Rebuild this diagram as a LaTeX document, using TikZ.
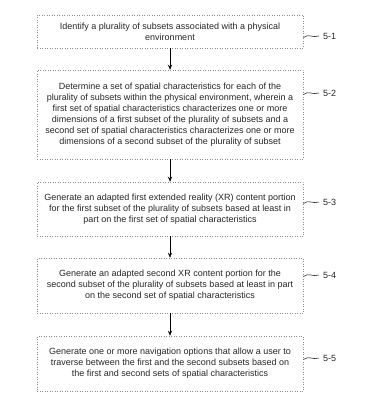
\documentclass[tikz,border=0pt]{standalone}
\usepackage{fontspec}
\setmainfont{Liberation Sans}
\usetikzlibrary{arrows.meta}
\tikzset{
  stepbox/.style={draw=black!45, dotted, line width=0.5pt, minimum width=266pt, align=center, inner sep=2pt, text=black!85, font=\fontsize{9}{11}\selectfont},
  steplabel/.style={font=\fontsize{9}{10}\selectfont, anchor=west, inner sep=0pt, text=black!85},
}
\begin{document}
\begin{tikzpicture}[>={Stealth[length=5pt,width=4pt]}, x=1pt, y=-1pt]
\useasboundingbox (0,0) rectangle (382,403);
\node[stepbox, minimum height=33pt](s1) at (170,31.5){Identify a plurality of subsets associated with a physical\\environment};
\node[stepbox, minimum height=89pt](s2) at (170,114.5){Determine a set of spatial characteristics for each of the\\plurality of subsets within the physical environment, wherein a\\first set of spatial characteristics characterizes one or more\\dimensions of a first subset of the plurality of subsets and a\\second set of spatial characteristics characterizes one or more\\dimensions of a second subset of the plurality of subset};
\node[stepbox, minimum height=54pt](s3) at (170,209){Generate an adapted first extended reality (XR) content portion\\for the first subset of the plurality of subsets based at least in\\part on the first set of spatial characteristics};
\node[stepbox, minimum height=55pt](s4) at (170,285.5){Generate an adapted second XR content portion for the\\second subset of the plurality of subsets based at least in part\\on the second set of spatial characteristics};
\node[stepbox, minimum height=55pt](s5) at (170,363.5){Generate one or more navigation options that allow a user to\\traverse between the first and the second subsets based on\\the first and second sets of spatial characteristics};
\draw[->](s1) to (s2);
\draw[->](s2) to (s3);
\draw[->](s3) to (s4);
\draw[->](s4) to (s5);
% reference labels
\node[steplabel](l1) at (323,36){5-1};
\node[steplabel](l2) at (323,93){5-2};
\node[steplabel](l3) at (323,202){5-3};
\node[steplabel](l4) at (323,275){5-4};
\node[steplabel](l5) at (323,358){5-5};
\foreach \i/\y in {1/36,2/93,3/202,4/275,5/358}{
  \coordinate (w\i) at ([xshift=-4pt]l\i.west);
  \draw[line width=0.5pt] (303.5,\y+1.5) .. controls (308,\y-2.5) and (313,\y+2) .. (w\i);
}
\end{tikzpicture}
\end{document}
